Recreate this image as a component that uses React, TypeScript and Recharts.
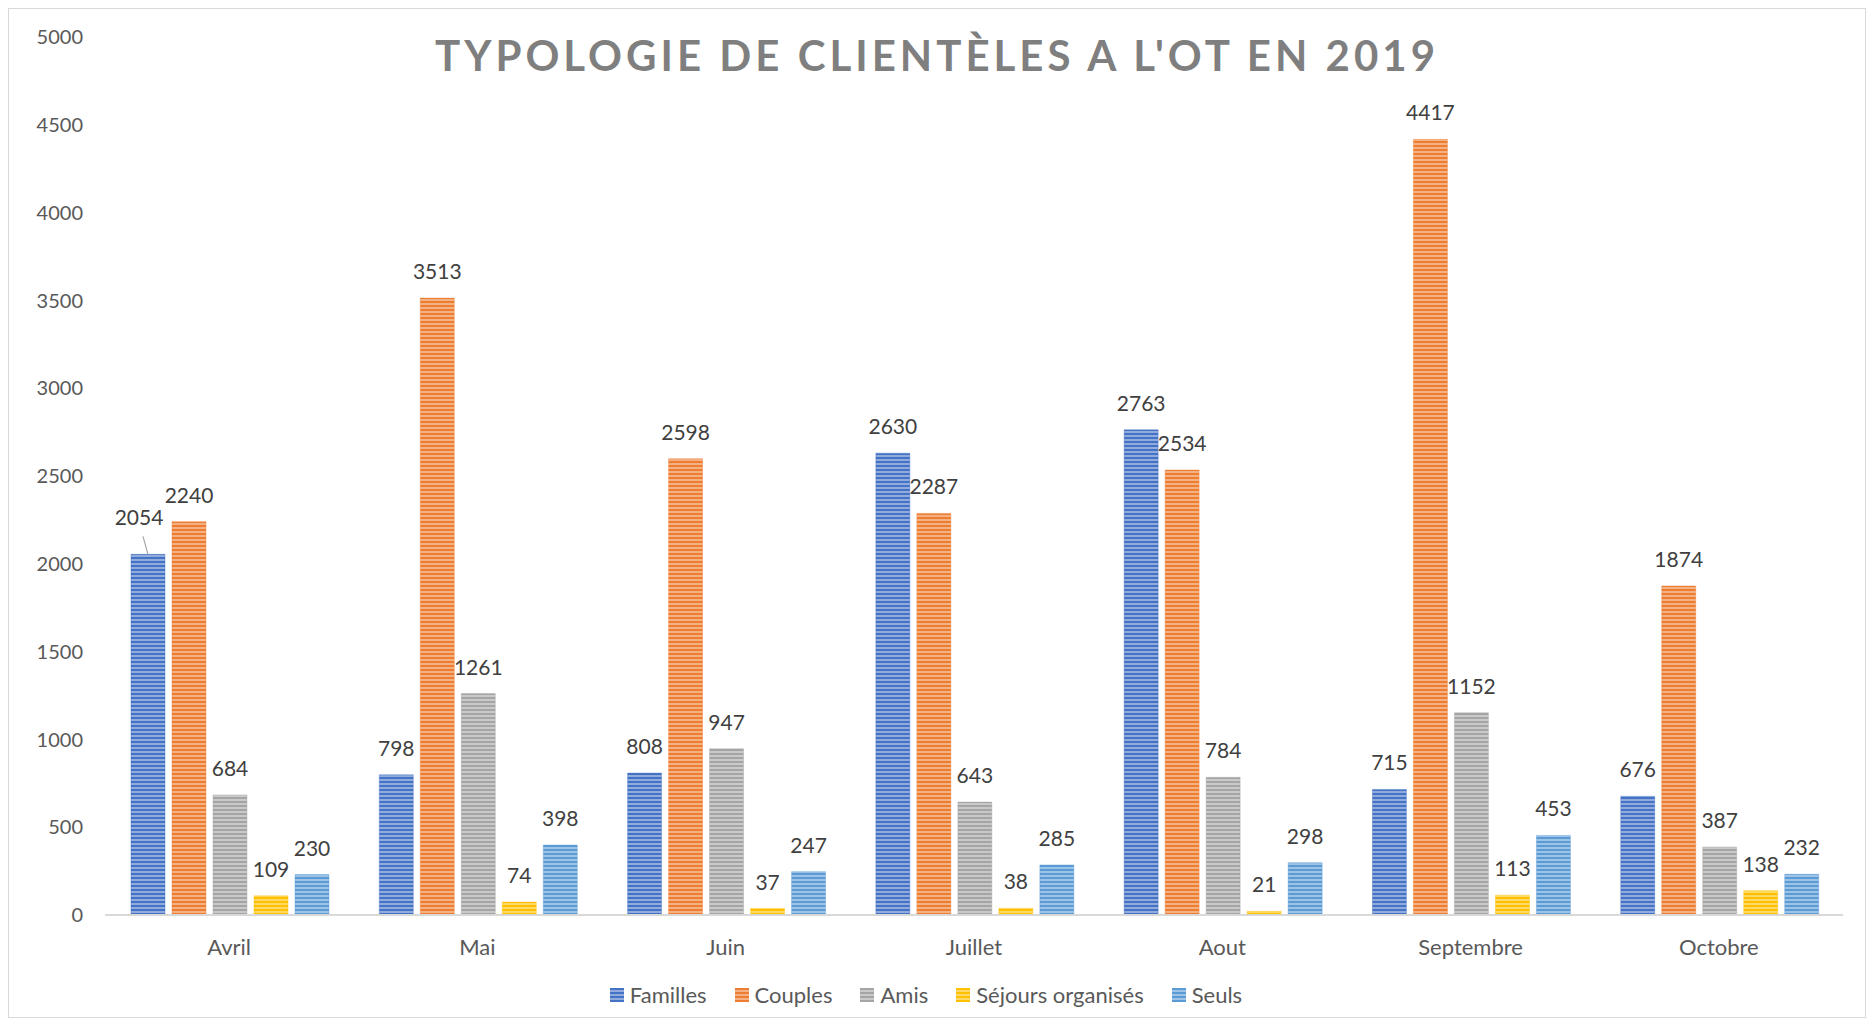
import { Bar, BarChart, LabelList, Legend, XAxis, YAxis } from "recharts";

const months = ["Avril", "Mai", "Juin", "Juillet", "Aout", "Septembre", "Octobre"];
const familles = [2054, 798, 808, 2630, 2763, 715, 676];
const couples = [2240, 3513, 2598, 2287, 2534, 4417, 1874];
const amis = [684, 1261, 947, 643, 784, 1152, 387];
const sejours = [109, 74, 37, 38, 21, 113, 138];
const seuls = [230, 398, 247, 285, 298, 453, 232];
const yTicks = [0, 500, 1000, 1500, 2000, 2500, 3000, 3500, 4000, 4500, 5000];

const data = months.map((m, i) => ({
  month: m,
  familles: familles[i],
  couples: couples[i],
  amis: amis[i],
  sejours: sejours[i],
  seuls: seuls[i],
}));

const series = [
  { key: "familles", name: "Familles", color: "#4472C4" },
  { key: "couples", name: "Couples", color: "#ED7D31" },
  { key: "amis", name: "Amis", color: "#A5A5A5" },
  { key: "sejours", name: "Séjours organisés", color: "#FFC000" },
  { key: "seuls", name: "Seuls", color: "#5B9BD5" },
];

const FONT = "Lato, 'Open Sans', sans-serif";

// value label; the first Familles label sits a bit higher with a leader line, like the original
function makeLabel(seriesKey: string) {
  // eslint-disable-next-line @typescript-eslint/no-explicit-any
  return (props: any) => {
    const { x, y, width, value, index } = props;
    const cx = x + width / 2;
    if (seriesKey === "familles" && index === 0) {
      return (
        <g>
          <line x1={cx - 5} y1={y - 18} x2={cx} y2={y} stroke="#A6A6A6" strokeWidth={1.2} />
          <text x={cx - 9} y={y - 29} textAnchor="middle" fontSize={21} fill="#404040" fontFamily={FONT}>
            {value}
          </text>
        </g>
      );
    }
    return (
      <text x={cx} y={y - 19} textAnchor="middle" fontSize={21} fill="#404040" fontFamily={FONT}>
        {value}
      </text>
    );
  };
}

function LegendBox() {
  return (
    <div
      style={{
        display: "flex",
        justifyContent: "center",
        gap: 28,
        paddingTop: 16,
        fontSize: 22,
        color: "#595959",
        fontFamily: FONT,
      }}
    >
      {series.map((s) => (
        <div key={s.key} style={{ display: "flex", alignItems: "center", gap: 6 }}>
          <svg width={14} height={14}>
            <rect width={14} height={14} fill={`url(#pat-${s.key})`} />
          </svg>
          <span>{s.name}</span>
        </div>
      ))}
    </div>
  );
}

export default function App() {
  return (
    <div
      style={{
        position: "relative",
        width: 1856,
        height: 1008,
        border: "1px solid #D9D9D9",
        background: "#fff",
        fontFamily: FONT,
      }}
    >
      <div
        style={{
          position: "absolute",
          top: 20,
          left: 0,
          width: "100%",
          textAlign: "center",
          fontSize: 42,
          fontWeight: 700,
          letterSpacing: 4,
          color: "#7F7F7F",
          lineHeight: "52px",
        }}
      >
        TYPOLOGIE DE CLIENTÈLES A L'OT EN 2019
      </div>
      <BarChart
        width={1856}
        height={1008}
        data={data}
        margin={{ top: 28, right: 22, left: 0, bottom: 16 }}
        barCategoryGap={26}
        barGap={7}
      >
        <defs>
          {series.map((s) => (
            <pattern key={s.key} id={`pat-${s.key}`} width="4" height="4" patternUnits="userSpaceOnUse">
              <rect width="4" height="4" fill={s.color} />
              <rect y="2.2" width="4" height="1.6" fill="#fff" opacity="0.5" />
            </pattern>
          ))}
        </defs>
        <XAxis
          dataKey="month"
          axisLine={{ stroke: "#D9D9D9", strokeWidth: 2 }}
          tickLine={false}
          tickSize={0}
          tickMargin={24}
          height={50}
          tick={{ fontSize: 22, fill: "#595959", fontFamily: FONT }}
        />
        <YAxis
          domain={[0, 5000]}
          ticks={yTicks}
          interval={0}
          axisLine={false}
          tickLine={false}
          tickSize={0}
          tickMargin={22}
          width={96}
          tick={{ fontSize: 20, fill: "#595959", fontFamily: FONT }}
        />
        <Legend verticalAlign="bottom" height={36} content={() => <LegendBox />} />
        {series.map((s) => (
          <Bar
            key={s.key}
            dataKey={s.key}
            name={s.name}
            fill={`url(#pat-${s.key})`}
            stroke={s.color}
            strokeOpacity={0.4}
            isAnimationActive={false}
          >
            <LabelList dataKey={s.key} content={makeLabel(s.key)} />
          </Bar>
        ))}
      </BarChart>
    </div>
  );
}
